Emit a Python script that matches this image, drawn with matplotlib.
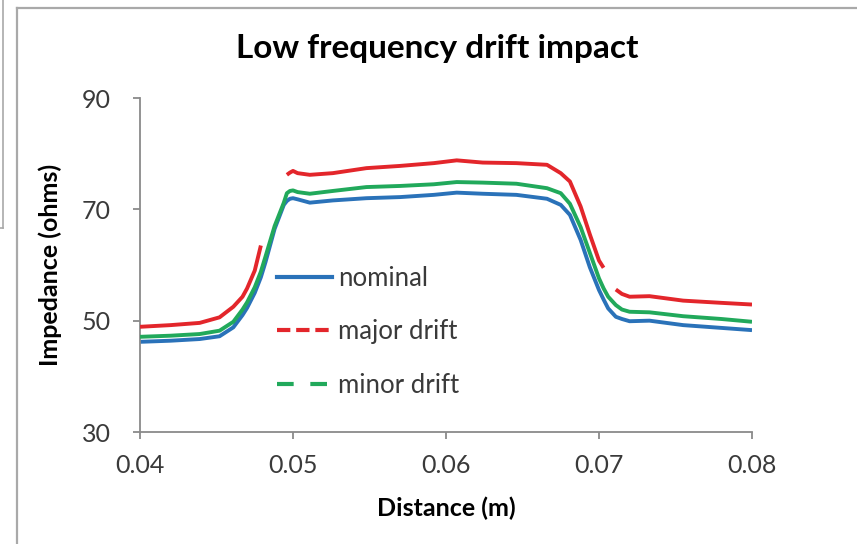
import matplotlib
matplotlib.use("Agg")
import matplotlib.pyplot as plt
from matplotlib.lines import Line2D
import numpy as np

plt.rcParams['font.family'] = ['Lato', 'DejaVu Sans']

distance = [0.0400, 0.0420, 0.0439, 0.0452, 0.0461, 0.0467, 0.0470, 0.0475, 0.0479,
            0.0482, 0.0488, 0.0494, 0.0496, 0.0498, 0.0500, 0.0503, 0.0511, 0.0526,
            0.0548, 0.0570, 0.0592, 0.0607, 0.0624, 0.0646, 0.0666, 0.0675, 0.0681,
            0.0688, 0.0694, 0.0700, 0.0703, 0.0706, 0.0711, 0.0715, 0.0720, 0.0733,
            0.0755, 0.0780, 0.0800]

nominal = [46.2, 46.4, 46.7, 47.2, 48.8, 51.0, 52.3, 55.0, 57.8,
           60.5, 66.5, 70.8, 71.5, 71.9, 72.0, 71.8, 71.2, 71.6,
           72.0, 72.2, 72.6, 73.0, 72.8, 72.6, 71.9, 70.8, 69.0,
           64.5, 59.6, 55.5, 53.8, 52.2, 50.7, 50.3, 49.9, 50.0,
           49.2, 48.7, 48.3]

major_drift = [48.9, 49.2, 49.6, 50.6, 52.5, 54.3, 55.8, 59.0, 63.5,
               np.nan, np.nan, np.nan, 76.2, 76.6, 76.9, 76.5, 76.2, 76.5,
               77.4, 77.8, 78.3, 78.8, 78.4, 78.3, 78.0, 76.5, 75.0,
               70.5, 65.5, 60.8, 59.5, np.nan, 55.6, 54.8, 54.3, 54.4,
               53.6, 53.2, 52.9]

minor_drift = [47.1, 47.3, 47.6, 48.2, 49.8, 52.0, 53.3, 56.0, 58.8,
               61.5, 67.0, 71.2, 72.9, 73.3, 73.4, 73.1, 72.8, 73.3,
               74.0, 74.2, 74.5, 74.9, 74.8, 74.6, 73.8, 72.9, 71.0,
               66.8, 62.2, 57.6, 55.8, 54.3, 52.8, 52.0, 51.6, 51.5,
               50.8, 50.3, 49.8]

series_names = ["nominal", "major drift", "minor drift"]
x_ticks = [0.04, 0.05, 0.06, 0.07, 0.08]
x_tick_labels = ["0.04", "0.05", "0.06", "0.07", "0.08"]
y_ticks = [30, 50, 70, 90]

c_blue = '#2a72b9'
c_red = '#e3262b'
c_green = '#21a95b'

fig = plt.figure(figsize=(8.57, 5.44), dpi=100)
ax = fig.add_axes([140/857, 1 - 432/544, (752-140)/857, (432-98)/544])

ax.plot(distance, nominal, color=c_blue, lw=2.8, solid_capstyle='butt', zorder=2)
ax.plot(distance, minor_drift, color=c_green, lw=2.8, solid_capstyle='butt', zorder=3)
ax.plot(distance, major_drift, color=c_red, lw=2.8, solid_capstyle='butt', zorder=4)

ax.set_xlim(0.04, 0.08)
ax.set_ylim(30, 90)
ax.set_xticks(x_ticks)
ax.set_xticklabels(x_tick_labels)
ax.set_yticks(y_ticks)

for s in ['top', 'right']:
    ax.spines[s].set_visible(False)
for s in ['left', 'bottom']:
    ax.spines[s].set_color('#8a8a8a')
    ax.spines[s].set_linewidth(1.3)
ax.tick_params(axis='both', colors='#8a8a8a', length=5, width=1.3, labelsize=18,
               labelcolor='#3a3a3a')
ax.tick_params(axis='y', pad=16)
ax.tick_params(axis='x', pad=11)

ax.set_title("Low frequency drift impact", fontsize=24, fontweight='bold', pad=29, x=0.485)
ax.set_xlabel("Distance (m)", fontsize=18, fontweight='bold', labelpad=14)
ax.set_ylabel("Impedance (ohms)", fontsize=18, fontweight='bold')
ax.yaxis.set_label_coords(-0.128, 0.5)

handles = [Line2D([], [], color=c_blue, lw=3),
           Line2D([], [], color=c_red, lw=3, dashes=(3.2, 1.4)),
           Line2D([], [], color=c_green, lw=3, dashes=(4.0, 4.0))]
leg = ax.legend(handles, series_names, loc='upper left', bbox_to_anchor=(0.224, 0.497),
                frameon=False, fontsize=18.5, handlelength=2.14, handletextpad=0.23,
                labelspacing=1.1, borderpad=0, borderaxespad=0)
for t in leg.get_texts():
    t.set_color('#3a3a3a')

# outer chart frame
fig.add_artist(Line2D([17/857, 17/857], [0, 1 - 8/544], color='#a9a9a9', lw=1.6,
                      transform=fig.transFigure))
fig.add_artist(Line2D([17/857, 1], [1 - 8/544, 1 - 8/544], color='#a9a9a9', lw=1.6,
                      transform=fig.transFigure))
# neighbouring frame at left edge
fig.add_artist(Line2D([3/857, 3/857], [1, 1 - 228/544], color='#a9a9a9', lw=1.2,
                      transform=fig.transFigure))
fig.add_artist(Line2D([0, 3/857], [1 - 228/544, 1 - 228/544], color='#a9a9a9', lw=1.2,
                      transform=fig.transFigure))

fig.savefig("out.png", dpi=100)
